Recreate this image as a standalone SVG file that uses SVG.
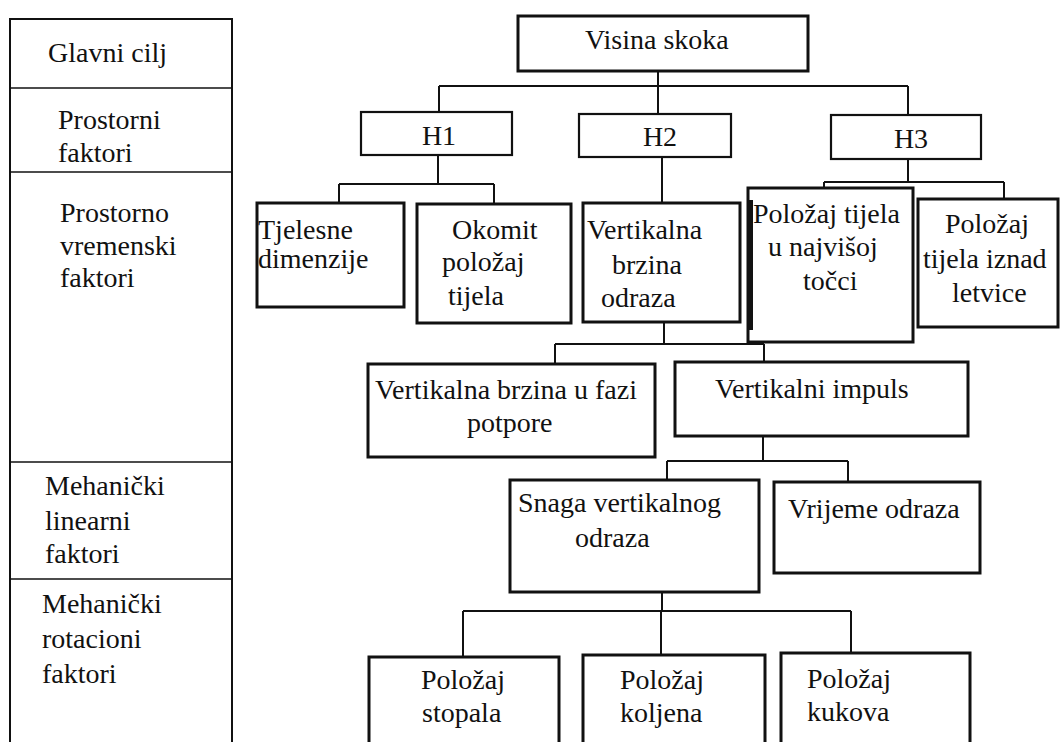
<svg xmlns="http://www.w3.org/2000/svg" width="1062" height="742" viewBox="0 0 1062 742">
<style>
text{font-family:"Liberation Serif","Times New Roman",serif;font-size:28px;fill:#111}
.box{fill:#fff;stroke:#111;stroke-width:3}
.hbox{fill:#fff;stroke:#111;stroke-width:2.2}
.col{fill:none;stroke:#111;stroke-width:2}
.div{stroke:#111;stroke-width:1.6}
.con{fill:none;stroke:#111;stroke-width:2}
.c{text-anchor:middle}
</style>
<rect width="1062" height="742" fill="#fff"/>
<g id="legend">
<path class="col" d="M10,742 V19 H232 V742"/>
<line class="div" x1="10" y1="88" x2="232" y2="88"/>
<line class="div" x1="10" y1="172" x2="232" y2="172"/>
<line class="div" x1="10" y1="462" x2="232" y2="462"/>
<line class="div" x1="10" y1="579" x2="232" y2="579"/>
<text x="48" y="62">Glavni cilj</text>
<text x="58" y="129">Prostorni</text>
<text x="58" y="162">faktori</text>
<text x="60" y="222">Prostorno</text>
<text x="60" y="255">vremenski</text>
<text x="60" y="287">faktori</text>
<text x="45" y="495">Mehanički</text>
<text x="45" y="530">linearni</text>
<text x="45" y="563">faktori</text>
<text x="42" y="613">Mehanički</text>
<text x="42" y="648">rotacioni</text>
<text x="42" y="683">faktori</text>
</g>
<g id="connectors">
<path class="con" d="M658,71 V86 M439,86 H908 M439,86 V112 M658,86 V114 M908,86 V115"/>
<path class="con" d="M438,155 V184 M339,184 H494 M339,184 V203 M494,184 V204"/>
<path class="con" d="M662,157 V203"/>
<path class="con" d="M908,159 V182 M824,182 H1004 M824,182 V188 M1004,182 V199"/>
<path class="con" d="M664,322 V344 M555,344 H764 M555,344 V364 M764,344 V362"/>
<path class="con" d="M763,436 V461 M667,461 H848 M667,461 V480 M848,461 V482"/>
<path class="con" d="M662,592 V611 M463,611 H851 M463,611 V657 M661,611 V655 M851,611 V653"/>
</g>
<g id="visina">
<rect class="box" x="518" y="16" width="290" height="55"/>
<text x="585" y="49">Visina skoka</text>
</g>
<g id="h1">
<rect class="hbox" x="361" y="112" width="151" height="43"/>
<text class="c" x="439" y="145">H1</text>
</g>
<g id="h2">
<rect class="hbox" x="579" y="114" width="152" height="43"/>
<text class="c" x="660" y="146">H2</text>
</g>
<g id="h3">
<rect class="hbox" x="831" y="115" width="150" height="44"/>
<text class="c" x="911" y="148">H3</text>
</g>
<g id="tjelesne">
<rect class="box" x="257" y="203" width="147" height="104"/>
<text x="258" y="239">Tjelesne</text>
<text x="258" y="268">dimenzije</text>
</g>
<g id="okomit">
<rect class="box" x="417" y="204" width="154" height="119"/>
<text x="452" y="239">Okomit</text>
<text x="442" y="271">položaj</text>
<text x="448" y="305">tijela</text>
</g>
<g id="vbo">
<rect class="box" x="583" y="203" width="157" height="119"/>
<text x="587" y="239">Vertikalna</text>
<text x="612" y="274">brzina</text>
<text x="601" y="307">odraza</text>
</g>
<g id="najvisoj">
<rect class="box" x="748" y="188" width="165" height="154"/>
<line x1="751" y1="200" x2="751" y2="330" stroke="#111" stroke-width="4"/>
<text x="753" y="223">Položaj tijela</text>
<text x="768" y="256">u najvišoj</text>
<text x="803" y="290">točci</text>
</g>
<g id="letvice">
<rect class="box" x="918" y="199" width="140" height="128"/>
<text x="945" y="233">Položaj</text>
<text x="923" y="268">tijela iznad</text>
<text x="952" y="302">letvice</text>
</g>
<g id="potpore">
<rect class="box" x="368" y="364" width="287" height="93"/>
<text x="375" y="399">Vertikalna brzina u fazi</text>
<text x="467" y="432">potpore</text>
</g>
<g id="impuls">
<rect class="box" x="675" y="362" width="293" height="74"/>
<text x="715" y="398">Vertikalni impuls</text>
</g>
<g id="snaga">
<rect class="box" x="510" y="480" width="249" height="112"/>
<text x="518" y="512">Snaga vertikalnog</text>
<text x="575" y="547">odraza</text>
</g>
<g id="vrijeme">
<rect class="box" x="774" y="482" width="206" height="91"/>
<text x="788" y="518">Vrijeme odraza</text>
</g>
<g id="stopala">
<rect class="box" x="369" y="657" width="190" height="100"/>
<text x="421" y="689">Položaj</text>
<text x="422" y="722">stopala</text>
</g>
<g id="koljena">
<rect class="box" x="583" y="655" width="182" height="100"/>
<text x="620" y="689">Položaj</text>
<text x="620" y="722">koljena</text>
</g>
<g id="kukova">
<rect class="box" x="781" y="653" width="189" height="100"/>
<text x="807" y="688">Položaj</text>
<text x="807" y="721">kukova</text>
</g>
</svg>
